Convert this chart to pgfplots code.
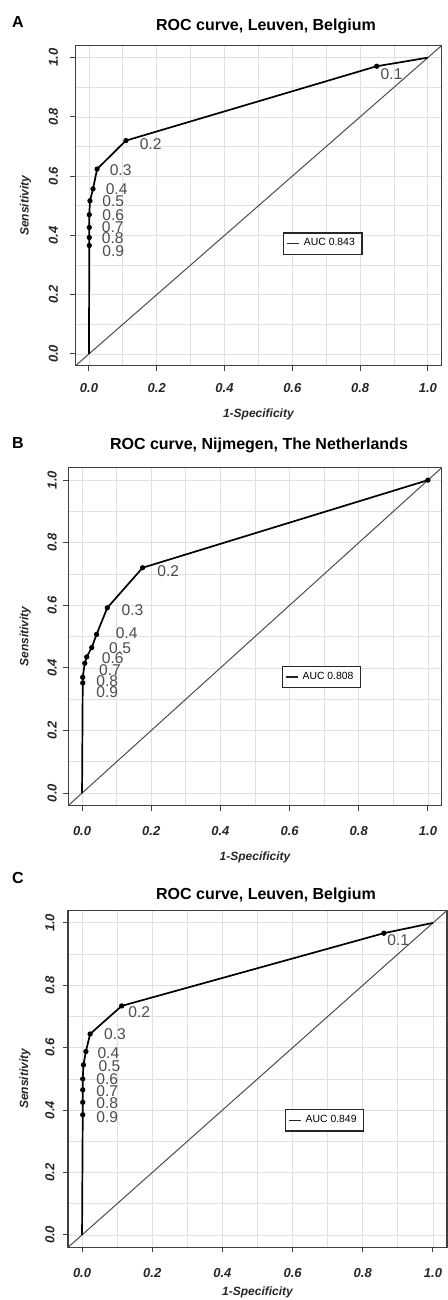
\documentclass[border=0pt]{standalone}
\usepackage{pgfplots}
\pgfplotsset{compat=1.18}
\usepackage{fontspec}
\setmainfont{Liberation Sans}

% common look of the three R-style ROC panels
% #1 x tick label shift, #2 y tick label shift, #3 x label shift, #4 y label shift
\pgfplotsset{
  roc/.style n args={4}{
    scale only axis,
    anchor=south west,
    xmin=-0.04, xmax=1.04, ymin=-0.04, ymax=1.04,
    xtick={0,0.2,0.4,0.6,0.8,1}, ytick={0,0.2,0.4,0.6,0.8,1},
    xticklabels={0.0,0.2,0.4,0.6,0.8,1.0},
    yticklabels={0.0,0.2,0.4,0.6,0.8,1.0},
    minor xtick={0.1,0.3,0.5,0.7,0.9}, minor ytick={0.1,0.3,0.5,0.7,0.9},
    grid=both,
    major grid style={black!12, line width=0.4pt},
    minor grid style={black!12, line width=0.4pt},
    tick align=outside, major tick length=2.5pt, minor tick length=0pt,
    xtick pos=bottom, ytick pos=left,
    axis line style={black!75, line width=0.6pt},
    every tick/.style={black!75, line width=0.5pt},
    tick label style={font=\fontsize{6.5}{7}\selectfont\bfseries\itshape, text=black!85},
    xticklabel style={anchor=center, yshift=#1},
    yticklabel style={xshift=#2, rotate=90, anchor=center},
    every axis x label/.style={at={(axis description cs:0.5,0)}, anchor=center,
      yshift=#3, font=\fontsize{6}{7}\selectfont\bfseries\itshape, text=black!85},
    every axis y label/.style={at={(axis description cs:0,0.5)}, xshift=#4,
      rotate=90, anchor=center, font=\fontsize{6}{7}\selectfont\bfseries\itshape,
      text=black!85},
    xlabel={1-Specificity}, ylabel={Sensitivity},
    legend style={anchor=center, draw=black!85, line width=0.7pt,
      font=\fontsize{5.2}{6}\selectfont, inner xsep=1.5pt, inner ysep=0.8pt,
      cells={anchor=west}},
    legend image code/.code={\draw[black!85, line width=0.6pt] (0pt,0pt) -- (6pt,0pt);},
  },
  diag/.style={black!70, line width=0.5pt, forget plot},
  curve/.style={black, line width=0.85pt, mark=none},
  pts/.style={only marks, mark=*, mark size=1.1pt, black, forget plot},
  cut/.style={draw=none, mark=none, forget plot, nodes near coords,
    point meta=explicit symbolic,
    every node near coord/.append style={anchor=center, inner sep=0pt,
      font=\fontsize{7.8}{8}\selectfont, text=black!70}},
}

\begin{document}
\begin{tikzpicture}
\path[use as bounding box] (0pt,0pt) rectangle (224pt,-650pt);

% ---------- A ----------
\node[font=\fontsize{8}{9}\selectfont\bfseries] at (9pt,-11pt) {A};
\node[font=\fontsize{8}{9}\selectfont\bfseries] at (133pt,-13.3pt) {ROC curve, Leuven, Belgium};
\begin{axis}[roc={-8.5pt}{-8.5pt}{-24.5pt}{-25pt},
  at={(37.7pt,-182.9pt)}, width=183pt, height=160pt,
  legend style={at={(axis cs:0.69,0.372)}}]
\addplot[diag] coordinates {(-0.1,-0.1) (1.1,1.1)};
\addplot[curve] coordinates {(0,0) (0.001,0.366) (0.001,0.393) (0.001,0.427)
  (0.001,0.470) (0.003,0.517) (0.012,0.557) (0.024,0.624) (0.109,0.720)
  (0.849,0.971) (1,1)};
\addlegendentry{AUC 0.843}
\addplot[pts] coordinates {(0.001,0.366) (0.001,0.393) (0.001,0.427)
  (0.001,0.470) (0.003,0.517) (0.012,0.557) (0.024,0.624) (0.109,0.720)
  (0.849,0.971)};
\addplot[cut] table[meta=lab] {
x y lab
0.893 0.943 0.1
0.182 0.709 0.2
0.0935 0.622 0.3
0.0817 0.557 0.4
0.0718 0.515 0.5
0.0718 0.470 0.6
0.070 0.427 0.7
0.070 0.390 0.8
0.0718 0.346 0.9
};
\end{axis}

% ---------- B ----------
\node[font=\fontsize{8}{9}\selectfont\bfseries] at (9pt,-221.5pt) {B};
\node[font=\fontsize{8}{9}\selectfont\bfseries] at (129.5pt,-222.5pt) {ROC curve, Nijmegen, The Netherlands};
\begin{axis}[roc={-10pt}{-5.5pt}{-26pt}{-21.5pt},
  at={(34.1pt,-402.8pt)}, width=186.8pt, height=169pt,
  legend style={at={(axis cs:0.692,0.371)}}]
\addplot[diag] coordinates {(-0.1,-0.1) (1.1,1.1)};
\addplot[curve] coordinates {(0,0) (0.002,0.352) (0.002,0.370) (0.008,0.415)
  (0.0135,0.435) (0.028,0.465) (0.042,0.507) (0.073,0.592) (0.175,0.720) (1,1)};
\addlegendentry{AUC 0.808}
\addplot[pts] coordinates {(0.002,0.352) (0.002,0.370) (0.008,0.415)
  (0.0135,0.435) (0.028,0.465) (0.042,0.507) (0.073,0.592) (0.175,0.720) (1,1)};
\addplot[cut] table[meta=lab] {
x y lab
0.249 0.709 0.2
0.146 0.585 0.3
0.129 0.510 0.4
0.110 0.462 0.5
0.089 0.430 0.6
0.081 0.393 0.7
0.073 0.359 0.8
0.073 0.324 0.9
};
\end{axis}

% ---------- C ----------
\node[font=\fontsize{8}{9}\selectfont\bfseries] at (9pt,-439pt) {C};
\node[font=\fontsize{8}{9}\selectfont\bfseries] at (133pt,-447.5pt) {ROC curve, Leuven, Belgium};
\begin{axis}[roc={-10.5pt}{-6.5pt}{-22.5pt}{-21.5pt},
  at={(34pt,-623.7pt)}, width=189.5pt, height=168.5pt,
  legend style={at={(axis cs:0.691,0.367)}}]
\addplot[diag] coordinates {(-0.1,-0.1) (1.1,1.1)};
\addplot[curve] coordinates {(0,0) (0.002,0.385) (0.002,0.425) (0.002,0.465)
  (0.002,0.500) (0.004,0.545) (0.011,0.588) (0.023,0.644) (0.113,0.734)
  (0.860,0.967) (1,1)};
\addlegendentry{AUC 0.849}
\addplot[pts] coordinates {(0.002,0.385) (0.002,0.425) (0.002,0.465)
  (0.002,0.500) (0.004,0.545) (0.011,0.588) (0.023,0.644) (0.113,0.734)
  (0.860,0.967)};
\addplot[cut] table[meta=lab] {
x y lab
0.901 0.946 0.1
0.163 0.713 0.2
0.094 0.643 0.3
0.075 0.584 0.4
0.078 0.542 0.5
0.072 0.500 0.6
0.072 0.462 0.7
0.072 0.422 0.8
0.072 0.379 0.9
};
\end{axis}
\end{tikzpicture}
\end{document}
